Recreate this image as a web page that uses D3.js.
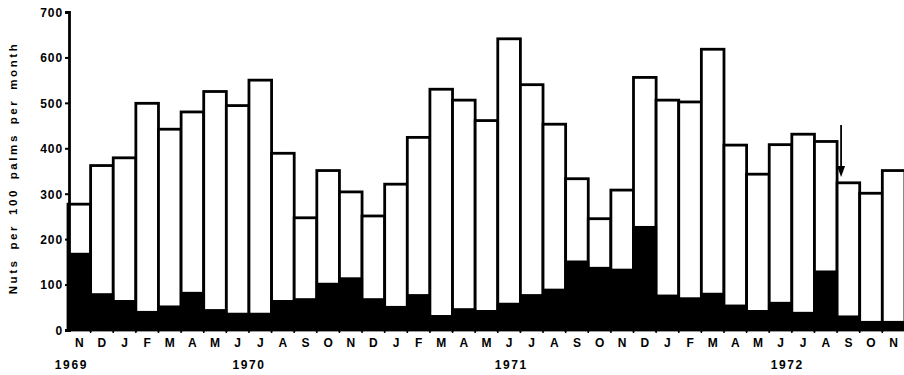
<!DOCTYPE html>
<html>
<head>
<meta charset="utf-8">
<script src="https://cdn.jsdelivr.net/npm/d3@7/dist/d3.min.js"></script>
<style>
  html, body { margin: 0; padding: 0; background: #fff; }
  svg { display: block; }
  text { font-family: "Liberation Sans", Arial, sans-serif; font-weight: bold; fill: #000; }
</style>
</head>
<body>
<svg id="chart" width="904" height="375"></svg>
<script>
// ---- data ----
const months = ["N","D","J","F","M","A","M","J","J","A","S","O",
                "N","D","J","F","M","A","M","J","J","A","S","O",
                "N","D","J","F","M","A","M","J","J","A","S","O","N"];
const totalNuts = [277,362,379,499,442,480,525,494,550,389,247,351,
                   304,251,321,424,530,506,461,641,540,453,333,245,
                   308,556,506,502,618,407,343,408,431,415,324,301,351];
const blackNuts = [170,81,66,42,54,84,46,38,38,66,70,104,
                   116,70,53,79,33,48,44,60,79,91,153,139,
                   135,229,78,72,82,56,44,62,40,131,32,20,20];
const yTicks = [0,100,200,300,400,500,600,700];
const years = ["1969","1970","1971","1972"];
const yearAnchorMonth = [-0.35, 7.5, 19.1, 31.3]; // month index under which each year label sits
const arrowMonth = 34;
const yTitle = "Nuts per 100 palms per month";

// ---- layout ----
const svg = d3.select("#chart");
const x0 = 68, barStep = 22.62;
const x = d3.scaleBand()
  .domain(d3.range(months.length))
  .range([x0, x0 + barStep * months.length])
  .padding(0);
const y = d3.scaleLinear().domain([0, 700]).range([330, 12]);

// white (total) bars
svg.append("g").selectAll("rect").data(totalNuts).join("rect")
  .attr("x", (d, i) => x(i))
  .attr("y", d => y(d))
  .attr("width", x.bandwidth())
  .attr("height", d => y(0) - y(d))
  .attr("fill", "#fff")
  .attr("stroke", "#000")
  .attr("stroke-width", 2.8);

// black portions
svg.append("g").selectAll("rect").data(blackNuts).join("rect")
  .attr("x", (d, i) => x(i) - 1)
  .attr("y", d => y(d))
  .attr("width", x.bandwidth() + 2)
  .attr("height", d => y(0) - y(d) + 1)
  .attr("fill", "#000");

// y axis
const yAxis = d3.axisLeft(y).tickValues(yTicks).tickSize(4).tickPadding(2);
const gy = svg.append("g").attr("transform", `translate(${x0 + 1},0)`).call(yAxis);
gy.select(".domain").attr("stroke", "#000").attr("stroke-width", 2.8);
gy.selectAll(".tick line").attr("stroke", "#000").attr("stroke-width", 2);
gy.selectAll(".tick text")
  .style("font-size", "12px").style("font-weight", "900")
  .style("letter-spacing", "0.9px")
  .attr("dy", "0.36em");

// x axis (month labels)
const xAxis = d3.axisBottom(x).tickFormat(i => months[i]).tickSize(0).tickPadding(8);
const gx = svg.append("g").attr("transform", `translate(0,${y(0)})`).call(xAxis);
gx.select(".domain").remove();
gx.selectAll(".tick text").style("font-size", "12px").style("font-weight", "900");
// small separators below the baseline between bars
svg.append("g").selectAll("line").data(d3.range(1, months.length)).join("line")
  .attr("x1", i => x(i)).attr("x2", i => x(i))
  .attr("y1", y(0)).attr("y2", y(0) + 3)
  .attr("stroke", "#000").attr("stroke-width", 1.5);

// year labels
svg.append("g").selectAll("text").data(years).join("text")
  .attr("x", (d, i) => x(0) + (yearAnchorMonth[i] + 0.5) * x.step())
  .attr("y", 369)
  .attr("text-anchor", "middle")
  .style("font-size", "12px")
  .style("letter-spacing", "1.6px")
  .text(d => d);

// y title
svg.append("text")
  .attr("transform", `translate(17,168) rotate(-90)`)
  .attr("text-anchor", "middle")
  .style("font-size", "11.5px")
  .style("letter-spacing", "2.6px")
  .style("word-spacing", "3px")
  .text(yTitle);

// arrow above S 1972
const ax = x(arrowMonth) + 4;
svg.append("line")
  .attr("x1", ax).attr("x2", ax)
  .attr("y1", 125).attr("y2", 170)
  .attr("stroke", "#000").attr("stroke-width", 1.8);
svg.append("path")
  .attr("d", `M${ax - 4},166 L${ax + 4},166 L${ax},177 Z`)
  .attr("fill", "#000");
</script>
</body>
</html>
